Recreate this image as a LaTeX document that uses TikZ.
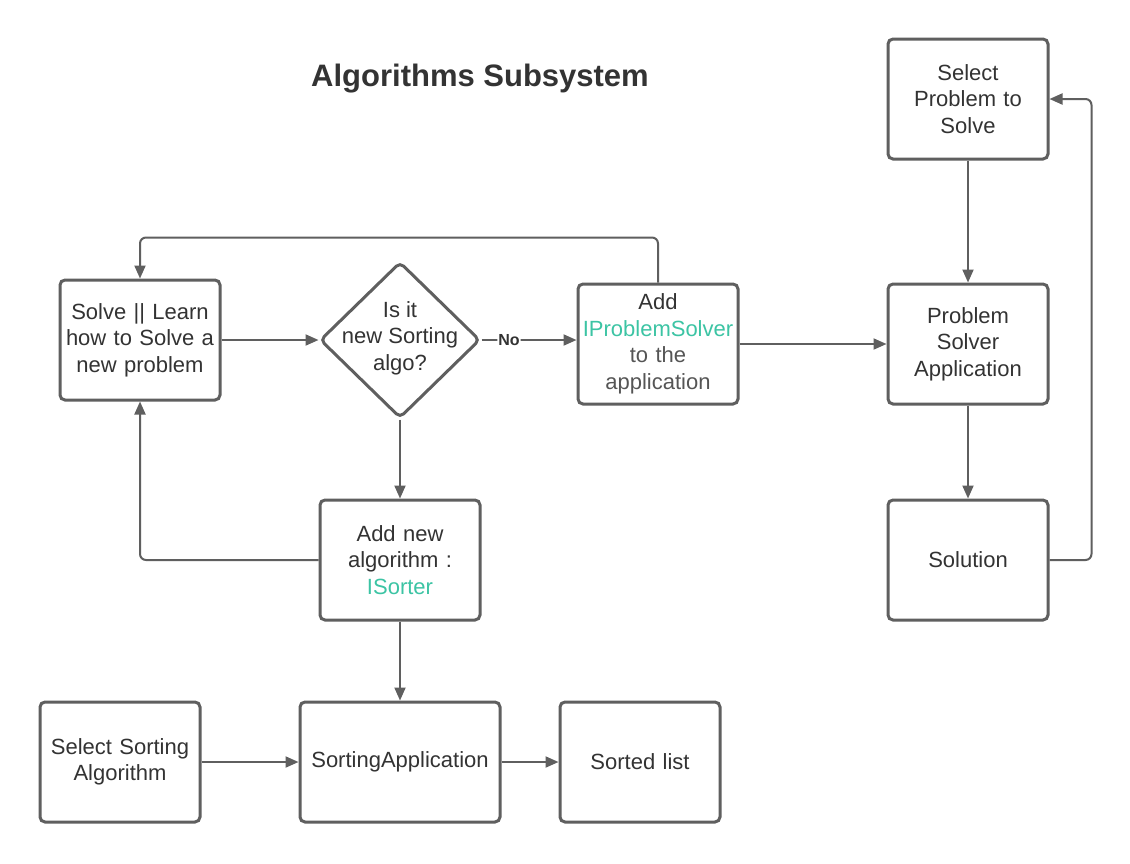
\documentclass[tikz,border=0pt]{standalone}
\usepackage{fontspec}
\setmainfont{Liberation Sans}
\usetikzlibrary{shapes.geometric,arrows.meta}
\definecolor{linegray}{HTML}{5F5F5F}
\definecolor{textgray}{HTML}{333333}
\definecolor{softgray}{HTML}{555555}
\definecolor{lucidteal}{HTML}{3CC4A4}

\begin{document}
\begin{tikzpicture}[x=1pt,y=-1pt,
    box/.style={draw=linegray,line width=3pt,rounded corners=5pt,minimum width=160pt,minimum height=120pt,text width=158pt,align=center,inner sep=0pt,font=\fontsize{22}{26.5}\selectfont,text=textgray},
    decision/.style={draw=linegray,line width=3pt,diamond,rounded corners=5pt,minimum width=160pt,minimum height=156pt,inner sep=0pt},
    link/.style={draw=linegray,line width=2pt,rounded corners=6pt,-{Triangle[length=13pt,width=11pt]}}]
    % Page
    \path[fill=white] (0,0) rectangle (1130,863);
    \useasboundingbox (0,0) rectangle (1130,863);
    % Title
    \node[font=\bfseries\fontsize{31}{36}\selectfont,text=textgray] (title) at (480,79) {Algorithms Subsystem};
    % Problem solver column
    \node[box] (selprob) at (968,99) {Select\\Problem to\\Solve};
    \node[box] (solver) at (968,344) {Problem\\Solver\\Application};
    \node[box] (solution) at (968,560) {Solution};
    % Learning loop
    \node[box] (solve) at (140,340) {Solve || Learn\\how to Solve a\\new problem};
    \node[decision] (dec) at (400,340) {};
    \node[align=center,font=\fontsize{22}{26.5}\selectfont,text=textgray] (dectext) at (400,338) {Is it\\new Sorting\\algo?};
    \node[box] (addps) at (658,344) {Add\\\textcolor{lucidteal}{IProblemSolver}\\\textcolor{softgray}{to the}\\\textcolor{softgray}{application}};
    \node[box] (addalg) at (400,560) {Add new\\algorithm :\\\textcolor{lucidteal}{ISorter}};
    % Sorting row
    \node[box] (selsort) at (120,762) {Select Sorting\\Algorithm};
    \node[box,minimum width=200pt,text width=196pt] (sortapp) at (400,762) {SortingApplication};
    \node[box] (sorted) at (640,762) {Sorted list};
    % Connectors
    \draw[link] (selprob) -- (solver);
    \draw[link] (solver) -- (solution);
    \draw[link] (solution.east) -- ++(42,0) |- (selprob.east);
    \draw[link] (addps.east) -- (solver.west);
    \draw[link] (solve.east) -- (dec.west);
    \draw[link] (dec.east) -- node[pos=0.29,fill=white,inner sep=1pt,font=\bfseries\fontsize{16}{19}\selectfont,text=textgray] (no) {No} (dec.east -| addps.west);
    \draw[link] (addps.north) -- ++(0,-45) -| (solve.north);
    \draw[link] (dec.south) -- (addalg.north);
    \draw[link] (addalg.west) -| (solve.south);
    \draw[link] (addalg) -- (sortapp);
    \draw[link] (selsort) -- (sortapp);
    \draw[link] (sortapp) -- (sorted);
\end{tikzpicture}
\end{document}
